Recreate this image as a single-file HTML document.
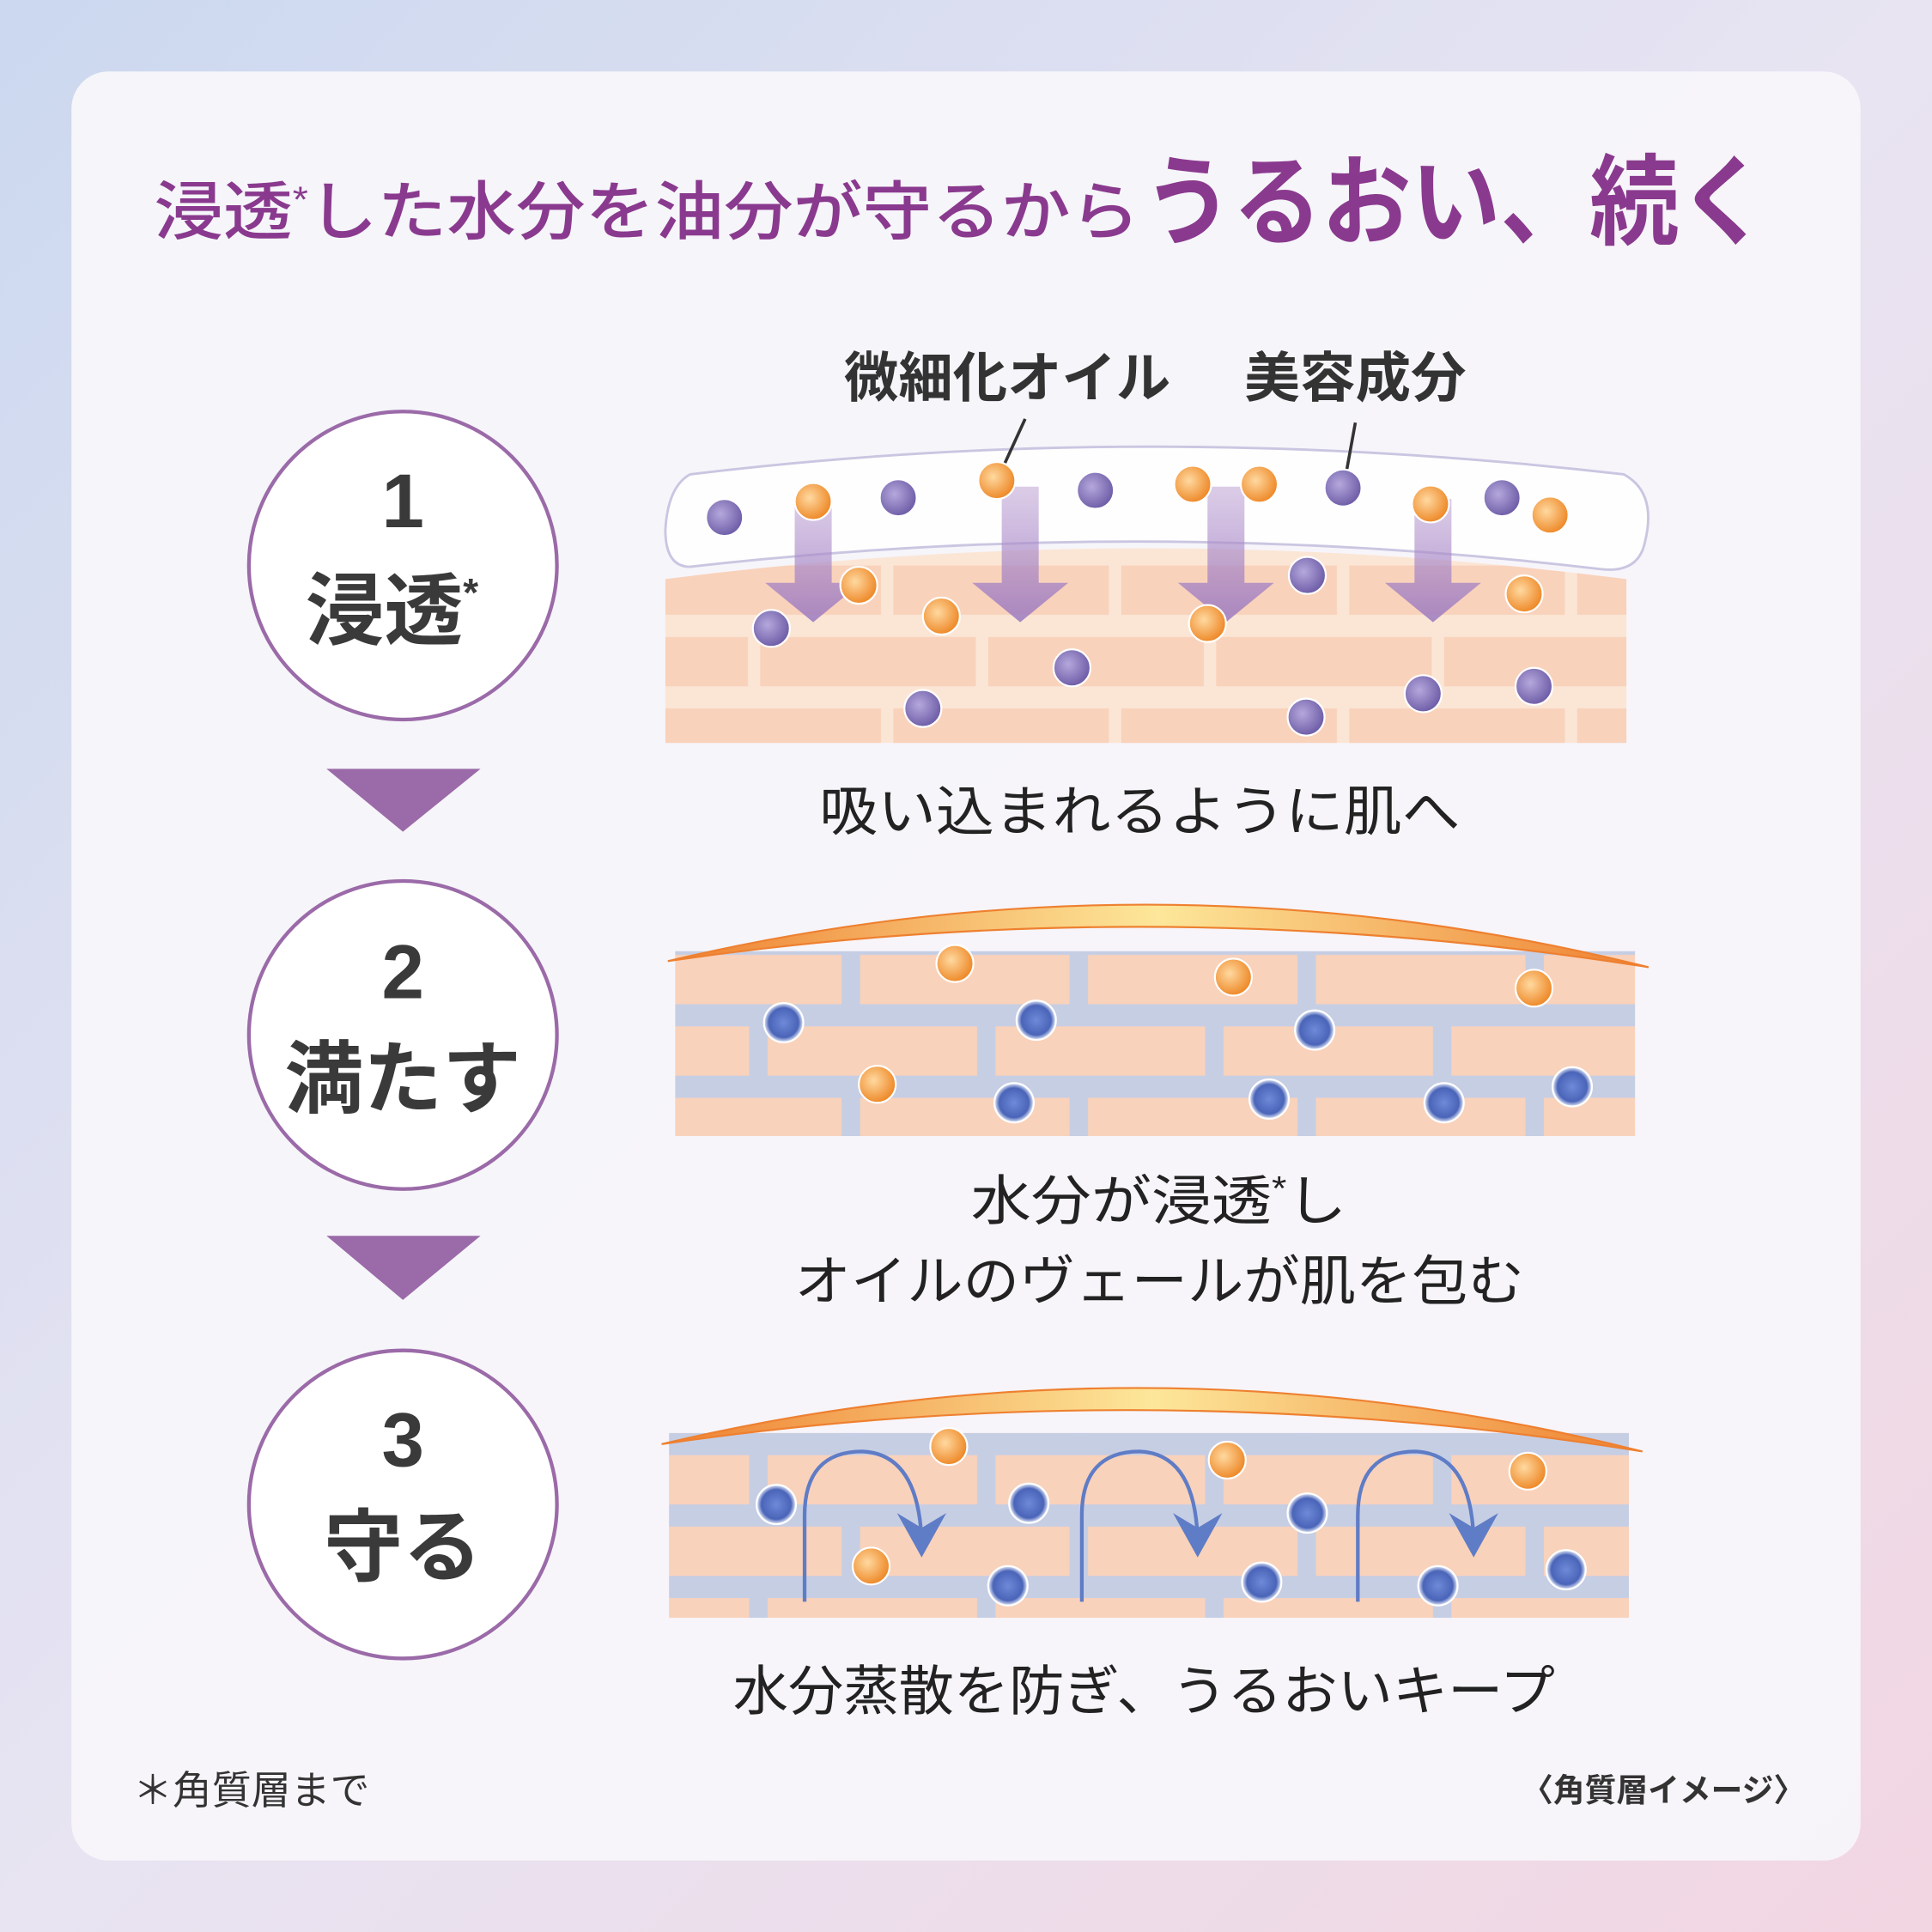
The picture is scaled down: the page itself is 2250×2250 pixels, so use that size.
<!DOCTYPE html>
<html><head><meta charset="utf-8"><style>
html,body{margin:0;padding:0;width:2250px;height:2250px;overflow:hidden}
svg{display:block}
text{font-family:"Liberation Sans","Noto Sans CJK JP",sans-serif}
</style></head><body>
<svg width="2250" height="2250" viewBox="0 0 1568 1568" xmlns="http://www.w3.org/2000/svg">
<defs>
<linearGradient id="bg" x1="0" y1="0" x2="1" y2="1">
<stop offset="0" stop-color="#cbd8ef"/><stop offset="0.5" stop-color="#e8e4f2"/><stop offset="1" stop-color="#f2d6e2"/>
</linearGradient>
<radialGradient id="pu" cx="0.4" cy="0.4" r="0.6"><stop offset="0" stop-color="#b5a8dc"/><stop offset="1" stop-color="#6f5ea8"/></radialGradient>
<radialGradient id="or" cx="0.4" cy="0.4" r="0.6"><stop offset="0" stop-color="#ffd9a0"/><stop offset="1" stop-color="#ee8a2a"/></radialGradient>
<radialGradient id="bl" cx="0.5" cy="0.5" r="0.5"><stop offset="0" stop-color="#6f8ad8"/><stop offset="0.75" stop-color="#4a64b8"/><stop offset="1" stop-color="#e8eefa"/></radialGradient>
<linearGradient id="arcg" x1="0" x2="1"><stop offset="0" stop-color="#ee8030"/><stop offset="0.5" stop-color="#fde79a"/><stop offset="1" stop-color="#ee8030"/></linearGradient>
<linearGradient id="arw" x1="0" y1="0" x2="0" y2="1"><stop offset="0" stop-color="#b89ad0" stop-opacity="0.5"/><stop offset="1" stop-color="#9a78c0" stop-opacity="0.85"/></linearGradient>
<pattern id="br1" x="540" y="455" width="370" height="116" patternUnits="userSpaceOnUse">
<rect width="370" height="116" fill="#fbe6d6"/>
<rect x="0" y="4" width="175" height="40" fill="#f9d2bb"/><rect x="185" y="4" width="175" height="40" fill="#f9d2bb"/>
<rect x="-108" y="62" width="175" height="40" fill="#f9d2bb"/><rect x="77" y="62" width="175" height="40" fill="#f9d2bb"/><rect x="262" y="62" width="175" height="40" fill="#f9d2bb"/>
</pattern>
<pattern id="br2" x="548" y="772" width="370" height="116" patternUnits="userSpaceOnUse">
<rect width="370" height="116" fill="#c6cee4"/>
<rect x="0" y="3" width="135" height="40" fill="#f9d2bb"/><rect x="150" y="3" width="170" height="40" fill="#f9d2bb"/><rect x="335" y="3" width="170" height="40" fill="#f9d2bb"/>
<rect x="-110" y="61" width="170" height="40" fill="#f9d2bb"/><rect x="75" y="61" width="170" height="40" fill="#f9d2bb"/><rect x="260" y="61" width="170" height="40" fill="#f9d2bb"/>
</pattern>
</defs>
<rect width="1568" height="1568" fill="url(#bg)"/>
<rect x="58" y="58" width="1452" height="1452" rx="30" fill="#f7f6fb" opacity="0.93"/>

<text x="125" y="190" font-size="52" fill="#8a3a8e" font-weight="500" textLength="800" lengthAdjust="spacingAndGlyphs">浸透<tspan font-size="30" dy="-18">*</tspan><tspan dy="18">した水分を油分が守るから</tspan></text>
<text x="928" y="192" font-size="80" fill="#8a3a8e" font-weight="bold" textLength="507" lengthAdjust="spacingAndGlyphs">うるおい、続く</text>

<g fill="#fff" stroke="#9b6aa8" stroke-width="3">
<circle cx="327" cy="459" r="125"/><circle cx="327" cy="840" r="125"/><circle cx="327" cy="1221" r="125"/>
</g>
<g fill="#3a3a3a" font-weight="bold" text-anchor="middle">
<text x="327" y="428" font-size="62">1</text>
<text x="318" y="518" font-size="64">浸透<tspan font-size="32" dy="-26">*</tspan></text>
<text x="327" y="810" font-size="62">2</text>
<text x="327" y="898" font-size="64">満たす</text>
<text x="327" y="1190" font-size="62">3</text>
<text x="327" y="1278" font-size="64">守る</text>
</g>
<g fill="#9b6aa8"><path d="M265,624H390L327,675z"/><path d="M265,1003H390L327,1055z"/></g>

<!-- panel 1 -->
<text x="685" y="322" font-size="44" font-weight="bold" fill="#333" textLength="265" lengthAdjust="spacingAndGlyphs">微細化オイル</text>
<text x="1010" y="322" font-size="44" font-weight="bold" fill="#333" textLength="180" lengthAdjust="spacingAndGlyphs">美容成分</text>
<path d="M540,470Q930,420 1320,470V603H540z" fill="url(#br1)"/>
<path d="M560,385Q930,340 1318,385Q1345,400 1335,440Q1330,465 1300,462Q930,418 560,460Q540,460 540,430Q542,395 560,385z" fill="#fff" stroke="#c8c4e0" stroke-width="2" opacity="0.95"/>
<line x1="810" y1="388" x2="832" y2="340" stroke="#333" stroke-width="2.5"/>
<line x1="1092" y1="387" x2="1100" y2="343" stroke="#333" stroke-width="2.5"/>
<g fill="url(#arw)">
<path d="M645,405h30v68h24l-39,32l-39,-32h24z"/>
<path d="M813,395h30v78h24l-39,32l-39,-32h24z"/>
<path d="M980,395h30v78h24l-39,32l-39,-32h24z"/>
<path d="M1148,405h30v68h24l-39,32l-39,-32h24z"/>
</g>
<g stroke="#fff" stroke-width="1.5">
<g fill="url(#pu)">
<circle cx="588" cy="420" r="15"/><circle cx="729" cy="404" r="15"/><circle cx="889" cy="398" r="15"/><circle cx="1090" cy="396" r="15"/><circle cx="1219" cy="404" r="15"/>
<circle cx="626" cy="510" r="15"/><circle cx="1061" cy="467" r="15"/><circle cx="870" cy="542" r="15"/><circle cx="749" cy="575" r="15"/><circle cx="1060" cy="582" r="15"/><circle cx="1155" cy="563" r="15"/><circle cx="1245" cy="557" r="15"/>
</g>
<g fill="url(#or)">
<circle cx="660" cy="407" r="15"/><circle cx="809" cy="390" r="15"/><circle cx="968" cy="393" r="15"/><circle cx="1022" cy="393" r="15"/><circle cx="1161" cy="409" r="15"/><circle cx="1258" cy="418" r="15"/>
<circle cx="697" cy="475" r="15"/><circle cx="764" cy="500" r="15"/><circle cx="980" cy="506" r="15"/><circle cx="1237" cy="482" r="15"/>
</g></g>
<text x="665" y="674" font-size="44" fill="#222" textLength="520" lengthAdjust="spacingAndGlyphs">吸い込まれるように肌へ</text>

<!-- panel 2 -->
<rect x="548" y="772" width="779" height="150" fill="url(#br2)"/>
<path d="M542,780Q940,686 1338,785Q940,722 542,780z" fill="url(#arcg)" stroke="#ee8030" stroke-width="1.5"/>
<g stroke="#fff" stroke-width="1.5">
<g fill="url(#or)"><circle cx="775" cy="782" r="15"/><circle cx="1001" cy="793" r="15"/><circle cx="1245" cy="802" r="15"/><circle cx="712" cy="880" r="15"/></g>
<g fill="url(#bl)"><circle cx="636" cy="830" r="16"/><circle cx="841" cy="828" r="16"/><circle cx="1067" cy="836" r="16"/><circle cx="823" cy="895" r="16"/><circle cx="1030" cy="892" r="16"/><circle cx="1172" cy="895" r="16"/><circle cx="1276" cy="882" r="16"/></g>
</g>
<text x="788" y="990" font-size="44" fill="#222" textLength="305" lengthAdjust="spacingAndGlyphs">水分が浸透<tspan font-size="28" dy="-16">*</tspan><tspan dy="16">し</tspan></text>
<text x="645" y="1055" font-size="44" fill="#222" textLength="592" lengthAdjust="spacingAndGlyphs">オイルのヴェールが肌を包む</text>

<!-- panel 3 -->
<rect x="543" y="1163" width="779" height="150" fill="url(#br2)"/>
<path d="M537,1172Q935,1078 1333,1178Q935,1114 537,1172z" fill="url(#arcg)" stroke="#ee8030" stroke-width="1.5"/>
<g fill="none" stroke="#5f7cc6" stroke-width="3">
<path d="M653,1300V1230Q653,1178 700,1178Q745,1180 748,1250"/>
<path d="M878,1300V1230Q878,1178 925,1178Q970,1180 972,1250"/>
<path d="M1102,1300V1230Q1102,1178 1149,1178Q1194,1180 1196,1250"/>
</g>
<g fill="#5f7cc6"><path d="M728,1228L748,1264L768,1228L748,1240z"/><path d="M952,1228L972,1264L992,1228L972,1240z"/><path d="M1176,1228L1196,1264L1216,1228L1196,1240z"/></g>
<g stroke="#fff" stroke-width="1.5">
<g fill="url(#or)"><circle cx="770" cy="1174" r="15"/><circle cx="996" cy="1185" r="15"/><circle cx="1240" cy="1194" r="15"/><circle cx="707" cy="1271" r="15"/></g>
<g fill="url(#bl)"><circle cx="630" cy="1221" r="16"/><circle cx="835" cy="1220" r="16"/><circle cx="1061" cy="1228" r="16"/><circle cx="818" cy="1287" r="16"/><circle cx="1024" cy="1284" r="16"/><circle cx="1167" cy="1287" r="16"/><circle cx="1271" cy="1274" r="16"/></g>
</g>
<text x="595" y="1388" font-size="44" fill="#222" textLength="667" lengthAdjust="spacingAndGlyphs">水分蒸散を防ぎ、うるおいキープ</text>

<text x="108" y="1464" font-size="32" fill="#333">＊角質層まで</text>
<text x="1235" y="1462" font-size="26" fill="#333" font-weight="bold" textLength="230" lengthAdjust="spacingAndGlyphs">〈角質層イメージ〉</text>
</svg>
</body></html>
